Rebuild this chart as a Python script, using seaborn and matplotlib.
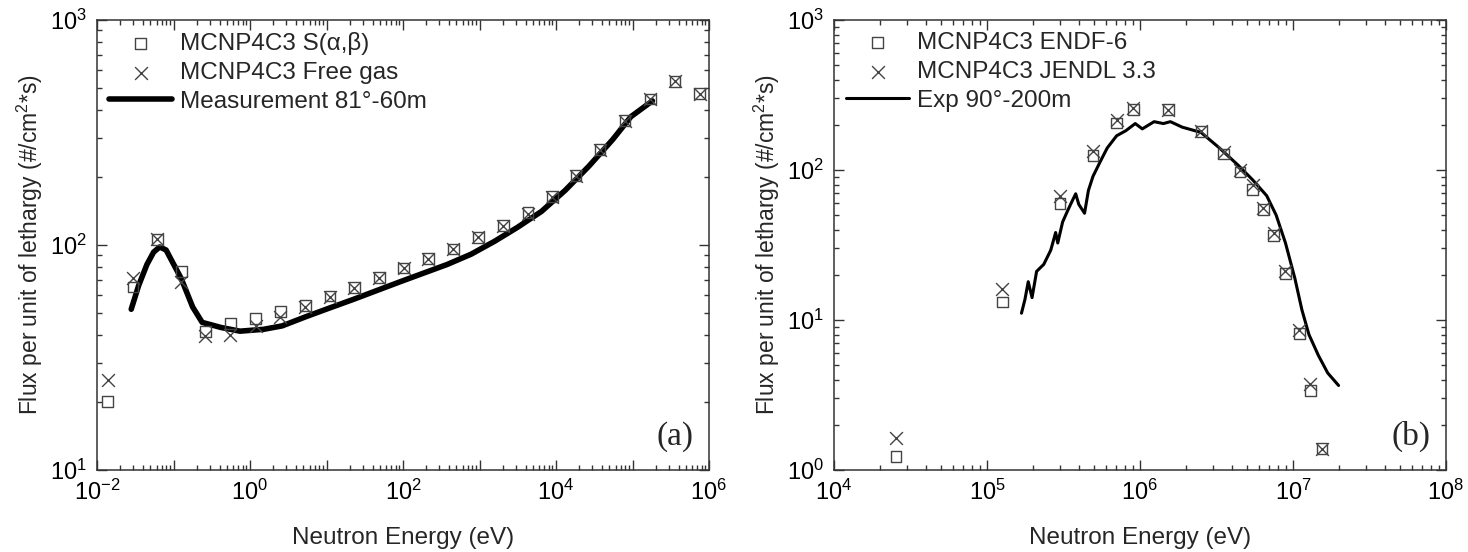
import numpy as np
import pandas as pd
import matplotlib
matplotlib.use("Agg")
import matplotlib.pyplot as plt
from matplotlib.ticker import LogLocator, FuncFormatter, NullFormatter
import seaborn as sns

# ---------------- data: panel (a) ----------------
a_sab_E = [0.0138, 0.0295, 0.0616, 0.126, 0.26, 0.556, 1.19, 2.5, 5.3, 11.1, 23.2, 49, 102, 214, 455,
           970, 2040, 4300, 8950, 18200, 37500, 80000, 170000, 360000, 754000]
a_sab_F = [20.2, 65, 106, 76, 41.4, 44.8, 47, 50.5, 53.7, 59.3, 64.9, 71.6, 79, 87, 96,
           108, 122, 139, 164, 204, 266, 357, 445, 533, 470]
a_free_E = a_sab_E
a_free_F = [25.0, 71, 106, 68.6, 39.3, 39.8, 43.7, 47.9, 53, 59, 64.5, 71, 79, 87, 96,
            108, 122, 138, 164, 203, 265, 355, 445, 533, 470]
a_meas_E = [0.028, 0.035, 0.045, 0.055, 0.066, 0.08, 0.126, 0.178, 0.237, 0.417, 0.74, 1.51, 2.63,
            5.37, 11.0, 22.4, 45.2, 91.2, 186, 380, 776, 1585, 3160, 6460, 13200, 26900, 55000, 95500, 182000]
a_meas_F = [51.8, 66, 82, 93, 98, 95, 71, 53, 45.3, 43, 41.4, 42.2, 43.7,
            48, 52.5, 57.3, 62.7, 68.6, 75, 82, 91, 104, 120, 141, 175, 224, 294, 372, 437]

# ---------------- data: panel (b) ----------------
b_endf_E = [25400, 126000, 300000, 493000, 703000, 906000, 1.53e6, 2.51e6, 3.52e6, 4.5e6, 5.44e6,
            6.41e6, 7.49e6, 8.9e6, 1.1e7, 1.3e7, 1.55e7]
b_endf_F = [1.23, 13.2, 59.6, 125, 206, 253, 253, 181, 128, 97, 74, 54.3, 36.6, 20.3, 8.1, 3.38, 1.39]
b_jendl_E = b_endf_E
b_jendl_F = [1.63, 16.0, 67.4, 134, 217, 258, 253, 181, 131, 100, 79, 56, 38.3, 21.2, 8.55, 3.77, 1.39]
b_exp_E = [168000, 177000, 186000, 197000, 211000, 235000, 261000, 281000, 290000, 312000, 335000,
           360000, 380000, 398000, 434000, 460000, 493000, 548000, 610000, 703000, 809000, 931000,
           1.035e6, 1.236e6, 1.422e6, 1.58e6, 1.888e6, 2.506e6, 3.311e6, 4.406e6, 5.445e6, 6.73e6,
           7.762e6, 8.93e6, 1.028e7, 1.143e7, 1.271e7, 1.466e7, 1.687e7, 1.986e7]
b_exp_F = [11.1, 13.7, 18, 14.1, 21.1, 23.5, 29.2, 38.3, 32.6, 45, 53, 62, 69.4, 59, 51.5, 73,
           90.8, 113, 140, 169, 183, 204, 188, 210, 204, 210, 193, 178, 140, 107, 86, 67.4,
           50, 32.6, 19, 11.7, 8.0, 5.8, 4.43, 3.66]

sns.set_theme(style="ticks")
plt.rcParams["font.family"] = ["Liberation Sans", "DejaVu Sans"]
plt.rcParams["mathtext.fontset"] = "custom"
plt.rcParams["mathtext.rm"] = "Liberation Sans"
plt.rcParams["mathtext.it"] = "Liberation Sans:italic"
plt.rcParams["mathtext.default"] = "regular"

fig = plt.figure(figsize=(14.68, 5.52), dpi=100)
axA = fig.add_axes([97 / 1468, (552 - 470) / 552, 612 / 1468, 450 / 552])
axB = fig.add_axes([834 / 1468, (552 - 470) / 552, 612 / 1468, 450 / 552])

mk_col = "#444444"


def style_axis(ax, xlim, ylim, label_every):
    ax.set_xscale("log")
    ax.set_yscale("log")
    ax.set_xlim(*xlim)
    ax.set_ylim(*ylim)
    ax.xaxis.set_major_locator(LogLocator(base=10, numticks=20))
    ax.xaxis.set_minor_locator(LogLocator(base=10, subs=np.arange(2, 10), numticks=100))
    ax.yaxis.set_major_locator(LogLocator(base=10, numticks=20))
    ax.yaxis.set_minor_locator(LogLocator(base=10, subs=np.arange(2, 10), numticks=100))

    def fmtx(v, pos):
        e = int(round(np.log10(v)))
        if e % label_every != 0:
            return ""
        return r"$10^{%d}$" % e

    def fmty(v, pos):
        e = int(round(np.log10(v)))
        return r"$10^{%d}$" % e

    ax.xaxis.set_major_formatter(FuncFormatter(fmtx))
    ax.yaxis.set_major_formatter(FuncFormatter(fmty))
    ax.xaxis.set_minor_formatter(NullFormatter())
    ax.yaxis.set_minor_formatter(NullFormatter())
    ax.tick_params(which="both", direction="in", top=True, right=True, colors="#333333",
                   labelcolor="black", labelsize=17, width=1.0)
    ax.tick_params(which="major", length=7, pad=7)
    ax.tick_params(which="minor", length=3.5)
    for s in ax.spines.values():
        s.set_color("#333333")
        s.set_linewidth(1.1)
    ax.set_xlabel("Neutron Energy (eV)", fontsize=17.5, labelpad=16)
    ax.set_ylabel("Flux per unit of lethargy (#/cm$^{2}$*s)", fontsize=16.5, labelpad=4)


leg_kw = dict(loc="upper left", frameon=False, fontsize=17.5, handlelength=2.6, handletextpad=0.3,
              labelspacing=0.28, borderaxespad=0.1, bbox_to_anchor=(0.0, 1.0))

# ---------- panel (a) ----------
sns.scatterplot(x=a_sab_E, y=a_sab_F, ax=axA, marker="s", s=60, facecolor="none",
                edgecolor=mk_col, linewidth=1.0, label=r"MCNP4C3 S(α,β)", zorder=3)
sns.scatterplot(x=a_free_E, y=a_free_F, ax=axA, marker="x", s=85, color=mk_col,
                linewidth=1.0, label="MCNP4C3 Free gas", zorder=3)
sns.lineplot(x=a_meas_E, y=a_meas_F, ax=axA, color="black", linewidth=4.0,
             label="Measurement 81°-60m", zorder=2, sort=False)
style_axis(axA, (1e-2, 1e6), (10, 1000), 2)
axA.text(0.975, 0.04, "(a)", transform=axA.transAxes, ha="right", va="bottom",
         fontsize=24, family=["Liberation Serif", "DejaVu Serif"])
axA.legend(**leg_kw)

# ---------- panel (b) ----------
sns.scatterplot(x=b_endf_E, y=b_endf_F, ax=axB, marker="s", s=60, facecolor="none",
                edgecolor=mk_col, linewidth=1.0, label="MCNP4C3 ENDF-6", zorder=3)
sns.scatterplot(x=b_jendl_E, y=b_jendl_F, ax=axB, marker="x", s=85, color=mk_col,
                linewidth=1.0, label="MCNP4C3 JENDL 3.3", zorder=3)
sns.lineplot(x=b_exp_E, y=b_exp_F, ax=axB, color="black", linewidth=2.2,
             label="Exp 90°-200m", zorder=2, sort=False)
style_axis(axB, (1e4, 1e8), (1, 1000), 1)
axB.text(0.975, 0.04, "(b)", transform=axB.transAxes, ha="right", va="bottom",
         fontsize=24, family=["Liberation Serif", "DejaVu Serif"])
axB.legend(**leg_kw)

fig.savefig("out.png", dpi=100)
